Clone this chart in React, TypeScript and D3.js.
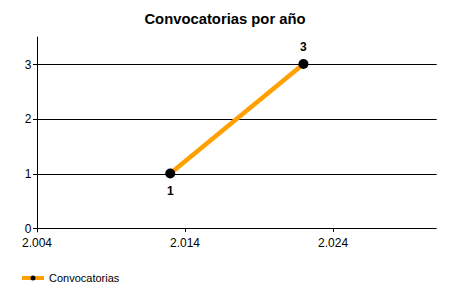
import React from "react";
import * as d3 from "d3";

const years = [2013, 2022];
const counts = [1, 3];
const xTicks = [2004, 2014, 2024];
const yTicks = [0, 1, 2, 3];
const title = "Convocatorias por año";
const seriesName = "Convocatorias";

export default function App() {
  const W = 450, H = 300;
  const x = d3.scaleLinear().domain([2004, 2031]).range([37, 436.7]);
  const y = d3.scaleLinear().domain([0, 3.5]).range([228.3, 36.7]);
  const fmt = (v: number) => d3.format(",")(v).replace(/,/g, ".");
  const data = years.map((yr, i) => ({ yr, c: counts[i] }));
  const line = d3.line<{ yr: number; c: number }>().x(d => x(d.yr)).y(d => y(d.c));
  const font = "'Liberation Sans', Arial, sans-serif";
  const color = "#FFA000";
  return (
    <svg width={W} height={H} style={{ position: "absolute", left: 0, top: 0, background: "#fff" }} fontFamily={font}>
      <rect width={W} height={H} fill="#fff" />
      <text x={225} y={24} textAnchor="middle" fontSize={14.8} fontWeight="bold" fill="#000">{title}</text>
      {yTicks.filter(t => t > 0).map(t => (
        <line key={"g" + t} x1={x(2004)} x2={x(2031)} y1={Math.round(y(t)) + 0.5} y2={Math.round(y(t)) + 0.5} stroke="#000" strokeWidth={1} />
      ))}
      <line x1={37.5} x2={37.5} y1={y(3.5)} y2={y(0) + 4} stroke="#000" />
      <line x1={x(2004) - 4} x2={x(2031)} y1={228.5} y2={228.5} stroke="#000" />
      {yTicks.map(t => (
        <g key={"y" + t}>
          <line x1={33} x2={37} y1={Math.round(y(t)) + 0.5} y2={Math.round(y(t)) + 0.5} stroke="#000" />
          <text x={31.5} y={y(t) + 4.5} textAnchor="end" fontSize={12} fill="#000">{t}</text>
        </g>
      ))}
      {xTicks.map(t => (
        <g key={"x" + t}>
          <line x1={Math.round(x(t)) + 0.5} x2={Math.round(x(t)) + 0.5} y1={228} y2={232} stroke="#000" />
          <text x={x(t)} y={247} textAnchor="middle" fontSize={12} fill="#000">{fmt(t)}</text>
        </g>
      ))}
      <path d={line(data) || ""} fill="none" stroke={color} strokeWidth={4.5} />
      {data.map((d, i) => (
        <g key={"p" + i}>
          <circle cx={x(d.yr)} cy={y(d.c)} r={5} fill="#000" />
          <text x={x(d.yr)} y={i === 0 ? y(d.c) + 21 : y(d.c) - 13} textAnchor="middle" fontSize={12} fontWeight="bold" fill="#000">{d.c}</text>
        </g>
      ))}
      <line x1={22} x2={44} y1={278} y2={278} stroke={color} strokeWidth={4} />
      <circle cx={33} cy={278} r={2.5} fill="#000" />
      <text x={49} y={282} fontSize={11} fill="#000">{seriesName}</text>
    </svg>
  );
}
